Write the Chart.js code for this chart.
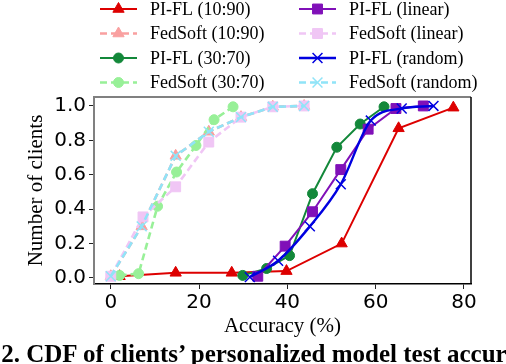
<!DOCTYPE html>
<html lang="en">
<head>
  <meta charset="UTF-8">
  <title>CDF of clients' personalized model test accuracy</title>
  <script src="https://cdn.jsdelivr.net/npm/chart.js"></script>
  <style>
    html, body { margin: 0; padding: 0; background: #fff; overflow: hidden; }
    .wrap { position: relative; width: 506px; height: 364px; }
    #cdfChart { position: absolute; left: 0; top: 0; }
    .caption {
      position: absolute;
      left: -46px;
      top: 342px;
      white-space: nowrap;
      font-family: "Liberation Serif", "DejaVu Serif", serif;
      font-weight: bold;
      font-size: 25px;
      line-height: 24px;
      color: #000;
    }
  </style>
</head>
<body>
  <div class="wrap">
    <canvas id="cdfChart" width="506" height="364"></canvas>
    <div class="caption">Fig. 2. CDF of clients’ personalized model test accuracy.</div>
  </div>

  <script>
    // accuracy (%) / CDF values
    const piflTen_x   = [2, 14.7, 27.4, 39.8, 52.3, 65.2, 77.6];
    const piflTen_y   = [0.01, 0.03, 0.03, 0.04, 0.2, 0.87, 0.99];
    const fedTen_x    = [0, 7, 14.7, 22.2, 29.5, 36.7, 43.8];
    const fedTen_y    = [0.01, 0.3, 0.71, 0.85, 0.935, 0.995, 1.0];
    const piflThirty_x = [29.9, 35.3, 40.5, 45.7, 51.2, 56.5, 61.9];
    const piflThirty_y = [0.015, 0.055, 0.13, 0.49, 0.76, 0.895, 0.995];
    const fedThirty_x = [2, 6.3, 10.6, 14.9, 19.3, 23.4, 27.7];
    const fedThirty_y = [0.015, 0.025, 0.417, 0.616, 0.77, 0.92, 0.995];
    const piflLinear_x = [33.3, 39.5, 45.7, 52.1, 58.3, 64.6, 70.8];
    const piflLinear_y = [0.01, 0.185, 0.385, 0.63, 0.865, 0.985, 1.0];
    const fedLinear_x = [0, 7.3, 14.7, 22.2, 29.5, 36.7, 43.8];
    const fedLinear_y = [0.01, 0.355, 0.53, 0.79, 0.935, 0.995, 1.0];
    const piflRandom_x = [31.5, 37.9, 45.1, 52.1, 58.9, 65.9, 73.1];
    const piflRandom_y = [0.005, 0.1, 0.3, 0.545, 0.915, 0.985, 1.0];
    const fedRandom_x = [0, 7, 14.7, 22.2, 29.5, 36.7, 43.8];
    const fedRandom_y = [0.01, 0.3, 0.71, 0.85, 0.935, 0.995, 1.0];

    const xTicks = [0, 20, 40, 60, 80];
    const yTicks = [0, 0.2, 0.4, 0.6, 0.8, 1.0];

    const serif = '"Liberation Serif", "DejaVu Serif", serif';
    const sans = '"DejaVu Sans", sans-serif';

    const pts = (xs, ys) => xs.map((x, i) => ({ x: x, y: ys[i] }));

    function series(label, xs, ys, color, marker, dashed, radius, extra) {
      return Object.assign({
        label: label,
        data: pts(xs, ys),
        borderColor: color,
        backgroundColor: color,
        pointBackgroundColor: color,
        pointBorderColor: color,
        pointStyle: marker,
        pointRadius: radius,
        pointBorderWidth: 1,
        borderWidth: dashed ? 2.6 : 2,
        borderDash: dashed ? [7, 4] : [],
        fill: false,
        tension: 0
      }, extra || {});
    }

    const datasets = [
      series('PI-FL (10:90)', piflTen_x, piflTen_y, '#dd0000', 'triangle', false, 6.5),
      series('FedSoft (10:90)', fedTen_x, fedTen_y, '#f9a0a0', 'triangle', true, 6.5),
      series('PI-FL (30:70)', piflThirty_x, piflThirty_y, '#13883a', 'circle', false, 5),
      series('FedSoft (30:70)', fedThirty_x, fedThirty_y, '#98f098', 'circle', true, 5),
      series('PI-FL (linear)', piflLinear_x, piflLinear_y, '#8010b8', 'rect', false, 7),
      series('FedSoft (linear)', fedLinear_x, fedLinear_y, '#f0c6f5', 'rect', true, 7),
      series('PI-FL (random)', piflRandom_x, piflRandom_y, '#0000e0', 'crossRot', false, 7,
             { pointBorderWidth: 1.5, borderWidth: 2.4, cubicInterpolationMode: 'monotone' }),
      series('FedSoft (random)', fedRandom_x, fedRandom_y, '#90e4f8', 'crossRot', true, 7,
             { pointBorderWidth: 1.5 })
    ];
    // later series drawn on top, as in the figure
    datasets.forEach((d, i) => { d.order = datasets.length - i; });

    // two-column legend above the axes, column-major order
    const columnLegend = {
      id: 'columnLegend',
      afterDraw(chart) {
        const ctx = chart.ctx;
        const rowsY = [9, 33.5, 58, 82.5];
        const cols = [{ x0: 100, x1: 137, text: 150 }, { x0: 299, x1: 336, text: 349 }];
        chart.data.datasets.forEach((ds, i) => {
          const c = cols[Math.floor(i / 4)];
          const y = rowsY[i % 4];
          ctx.save();
          ctx.strokeStyle = ds.borderColor;
          ctx.lineWidth = ds.borderWidth;
          ctx.setLineDash(ds.borderDash);
          ctx.beginPath();
          ctx.moveTo(c.x0, y);
          ctx.lineTo(c.x1, y);
          ctx.stroke();
          ctx.setLineDash([]);
          ctx.fillStyle = ds.pointBackgroundColor;
          ctx.strokeStyle = ds.pointBorderColor;
          ctx.lineWidth = ds.pointBorderWidth;
          Chart.helpers.drawPoint(ctx, {
            pointStyle: ds.pointStyle,
            radius: ds.pointRadius,
            rotation: 0,
            borderWidth: ds.pointBorderWidth
          }, (c.x0 + c.x1) / 2, y);
          ctx.fillStyle = '#000';
          ctx.font = '18px ' + serif;
          ctx.textBaseline = 'middle';
          ctx.textAlign = 'left';
          ctx.fillText(ds.label, c.text, y + 1);
          ctx.restore();
        });
      }
    };

    // top and right spines
    const frame = {
      id: 'frame',
      afterDatasetsDraw(chart) {
        const a = chart.chartArea;
        const ctx = chart.ctx;
        ctx.save();
        ctx.lineWidth = 2;
        ctx.strokeStyle = '#808080';
        ctx.beginPath();
        ctx.moveTo(a.left, a.top);
        ctx.lineTo(a.right, a.top);
        ctx.stroke();
        ctx.lineWidth = 1.5;
        ctx.strokeStyle = '#000';
        ctx.beginPath();
        ctx.moveTo(a.right, a.top);
        ctx.lineTo(a.right, a.bottom);
        ctx.stroke();
        ctx.restore();
      }
    };

    new Chart(document.getElementById('cdfChart'), {
      type: 'line',
      data: { datasets: datasets },
      plugins: [columnLegend, frame],
      options: {
        responsive: false,
        animation: false,
        layout: { padding: { left: 0, right: 35, top: 97, bottom: 23 } },
        plugins: {
          legend: { display: false },
          tooltip: { enabled: false }
        },
        scales: {
          x: {
            type: 'linear',
            min: -3.8,
            max: 81.6,
            afterBuildTicks: (s) => { s.ticks = xTicks.map(v => ({ value: v })); },
            afterFit: (s) => { s.height = 57; },
            grid: { display: true, drawOnChartArea: false, drawTicks: true, tickLength: 5, color: '#222' },
            border: { display: true, color: '#000', width: 1.5 },
            ticks: { color: '#000', padding: 2, maxRotation: 0, font: { family: sans, size: 20 } },
            title: {
              display: true,
              text: 'Accuracy (%)',
              color: '#000',
              font: { family: serif, size: 21 },
              padding: { top: 0, bottom: 2 }
            }
          },
          y: {
            type: 'linear',
            min: -0.035,
            max: 1.052,
            afterBuildTicks: (s) => { s.ticks = yTicks.map(v => ({ value: v })); },
            afterFit: (s) => { s.width = 94; },
            grid: { display: true, drawOnChartArea: false, drawTicks: true, tickLength: 5, color: '#222' },
            border: { display: true, color: '#808080', width: 2 },
            ticks: {
              color: '#000',
              padding: 3,
              font: { family: sans, size: 20 },
              callback: (v) => v.toFixed(1)
            },
            title: {
              display: true,
              text: 'Number of clients',
              color: '#000',
              font: { family: serif, size: 21 },
              padding: { top: 24, bottom: 0 }
            }
          }
        }
      }
    });
  </script>
</body>
</html>
